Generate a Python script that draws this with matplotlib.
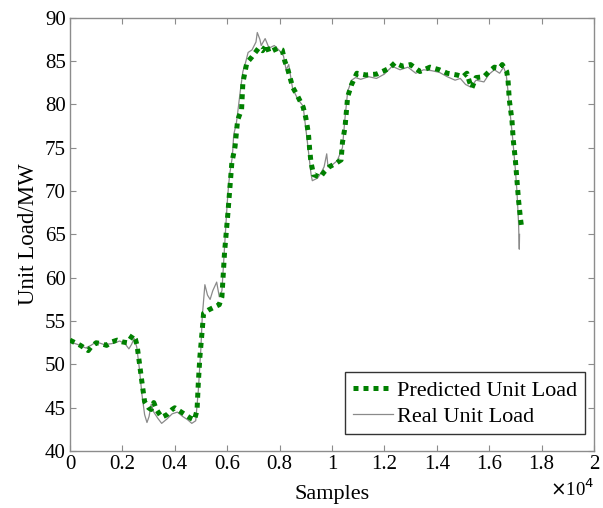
import numpy as np
import matplotlib.pyplot as plt

plt.rcParams['font.family'] = ['Liberation Serif', 'DejaVu Serif']

# --------------------------------------------------
# Data (samples in units of 1e4)
# --------------------------------------------------
pred_x = [0.00, 0.02, 0.04, 0.06, 0.07, 0.08, 0.10, 0.12, 0.14, 0.16, 0.18, 0.20,
          0.22, 0.24, 0.25, 0.256, 0.265, 0.275, 0.285, 0.30, 0.31, 0.32, 0.33,
          0.35, 0.37, 0.39, 0.40, 0.42, 0.44, 0.46, 0.475, 0.485, 0.49, 0.496,
          0.505, 0.51, 0.53, 0.55, 0.57, 0.58, 0.59, 0.603, 0.618, 0.63, 0.64,
          0.655, 0.66, 0.675, 0.695, 0.72, 0.735, 0.75, 0.76, 0.78, 0.795, 0.81,
          0.82, 0.83, 0.85, 0.87, 0.89, 0.90, 0.91, 0.915, 0.92, 0.93, 0.955,
          0.97, 0.99, 1.02, 1.035, 1.04, 1.05, 1.06, 1.075, 1.095, 1.13, 1.17,
          1.20, 1.22, 1.24, 1.27, 1.30, 1.336, 1.374, 1.41, 1.44, 1.477, 1.50,
          1.515, 1.525, 1.534, 1.55, 1.58, 1.60, 1.62, 1.64, 1.65, 1.667, 1.672,
          1.677, 1.687, 1.692, 1.70, 1.706, 1.712, 1.72, 1.725]
pred_y = [52.8, 52.5, 52.2, 51.8, 51.6, 52.0, 52.5, 52.4, 52.2, 52.6, 52.8, 52.6,
          52.5, 53.4, 52.9, 52.2, 50.2, 47.9, 45.7, 45.0, 44.8, 45.6, 44.8,
          43.9, 44.2, 44.8, 45.0, 44.6, 44.2, 43.8, 43.6, 44.7, 47.9, 50.9,
          54.0, 55.9, 56.3, 56.6, 56.9, 57.8, 62.9, 67.5, 73.3, 75.1, 78.2,
          79.4, 82.5, 84.8, 85.5, 86.5, 86.2, 86.9, 86.0, 86.3, 86.5, 86.3,
          85.0, 84.2, 82.0, 80.9, 79.7, 78.5, 76.7, 74.8, 73.3, 71.9, 71.6,
          72.2, 72.8, 73.3, 73.6, 75.6, 77.4, 80.9, 82.3, 83.6, 83.4, 83.5,
          83.9, 84.2, 84.8, 84.4, 84.6, 83.8, 84.3, 84.0, 83.6, 83.4, 83.2,
          83.6, 82.6, 81.9, 83.1, 83.2, 83.8, 84.3, 84.2, 84.6, 83.8, 82.8,
          80.5, 78.2, 75.9, 73.6, 71.3, 69.0, 66.7, 65.6]

real_x = [0.00, 0.03, 0.06, 0.08, 0.10, 0.13, 0.16, 0.19, 0.21, 0.225, 0.235,
          0.245, 0.255, 0.265, 0.275, 0.285, 0.294, 0.302, 0.31, 0.32, 0.335,
          0.35, 0.37, 0.39, 0.41, 0.43, 0.45, 0.465, 0.48, 0.49, 0.50, 0.505,
          0.515, 0.525, 0.535, 0.545, 0.56, 0.57, 0.58, 0.59, 0.60, 0.605, 0.61,
          0.62, 0.625, 0.635, 0.64, 0.65, 0.66, 0.67, 0.68, 0.695, 0.71, 0.715,
          0.725, 0.73, 0.745, 0.76, 0.78, 0.80, 0.815, 0.825, 0.835, 0.85, 0.87,
          0.89, 0.905, 0.92, 0.925, 0.945, 0.96, 0.97, 0.98, 0.985, 1.00, 1.02,
          1.04, 1.05, 1.06, 1.075, 1.09, 1.11, 1.14, 1.17, 1.20, 1.23, 1.26,
          1.29, 1.32, 1.35, 1.38, 1.41, 1.44, 1.47, 1.49, 1.51, 1.53, 1.55,
          1.58, 1.60, 1.62, 1.64, 1.655, 1.665, 1.672, 1.68, 1.69, 1.70, 1.706,
          1.712, 1.715, 1.716]
real_y = [52.6, 52.3, 51.9, 52.2, 52.6, 52.3, 52.4, 52.7, 52.4, 51.8, 52.3,
          53.0, 52.0, 49.5, 46.5, 44.2, 43.3, 44.0, 45.4, 44.5, 43.8,
          43.2, 43.7, 44.3, 44.5, 44.0, 43.6, 43.2, 43.5, 47.0, 52.0, 55.5,
          59.2, 58.0, 57.5, 58.5, 59.5, 57.8, 58.5, 63.5, 68.5, 70.5, 72.0,
          74.0, 76.5, 77.8, 79.0, 81.5, 83.8, 84.8, 86.0, 86.3, 87.2, 88.3,
          87.5, 86.8, 87.6, 86.5, 86.8, 86.2, 85.6, 84.0, 84.6, 81.8, 80.6,
          79.8, 76.0, 72.0, 71.2, 71.5, 72.2, 72.8, 74.3, 72.8, 73.0, 73.5,
          75.0, 78.5, 81.5, 82.8, 83.1, 82.9, 83.2, 83.0, 83.5, 84.4, 84.0,
          84.3, 83.6, 84.0, 83.9, 83.7, 83.2, 82.8, 83.0, 82.3, 82.0, 82.8,
          82.6, 83.5, 84.0, 83.6, 84.3, 83.5, 81.5, 79.0, 76.0, 72.5, 70.0,
          66.5, 63.3, 65.0]

x_ticks = [0, 0.2, 0.4, 0.6, 0.8, 1, 1.2, 1.4, 1.6, 1.8, 2]
x_tick_labels = ["0", "0.2", "0.4", "0.6", "0.8", "1", "1.2", "1.4", "1.6", "1.8", "2"]
y_ticks = [40, 45, 50, 55, 60, 65, 70, 75, 80, 85, 90]

# --------------------------------------------------
# Plot
# --------------------------------------------------
fig = plt.figure(figsize=(6.03, 5.08), dpi=100)
ax = fig.add_axes([0.116, 0.112, 0.869, 0.853])

real_line, = ax.plot(real_x, real_y, color="#8a8a8a", linewidth=0.9, zorder=2)
pred_line, = ax.plot(pred_x, pred_y, color="#008000", linewidth=3.6,
                     dashes=(1.0, 1.0), dash_capstyle="butt", zorder=3)

ax.set_xlim(0, 2)
ax.set_ylim(40, 90)
ax.set_xticks(x_ticks)
ax.set_xticklabels(x_tick_labels)
ax.set_yticks(y_ticks)

for s in ax.spines.values():
    s.set_color("#8c8c8c")
    s.set_linewidth(1.0)
ax.tick_params(direction="in", top=True, right=True, length=4, color="#8c8c8c",
               labelsize=15, pad=3)

ax.set_xlabel("Samples", fontsize=16, labelpad=8)
ax.set_ylabel("Unit Load/MW", fontsize=16.5, labelpad=4)
fig.text(0.985, 0.015, r"$\times$10$^{4}$", fontsize=13.5, ha="right", va="bottom")

leg = ax.legend([pred_line, real_line], ["Predicted Unit Load", "Real Unit Load"],
                loc="lower right", fontsize=16, frameon=True, fancybox=False,
                handlelength=1.8, handletextpad=0.2, borderpad=0.35,
                labelspacing=0.25, borderaxespad=0.4, bbox_to_anchor=(1.0, 0.018))
leg.get_frame().set_edgecolor("black")
leg.get_frame().set_linewidth(1.0)

plt.savefig("out.png", dpi=100)
